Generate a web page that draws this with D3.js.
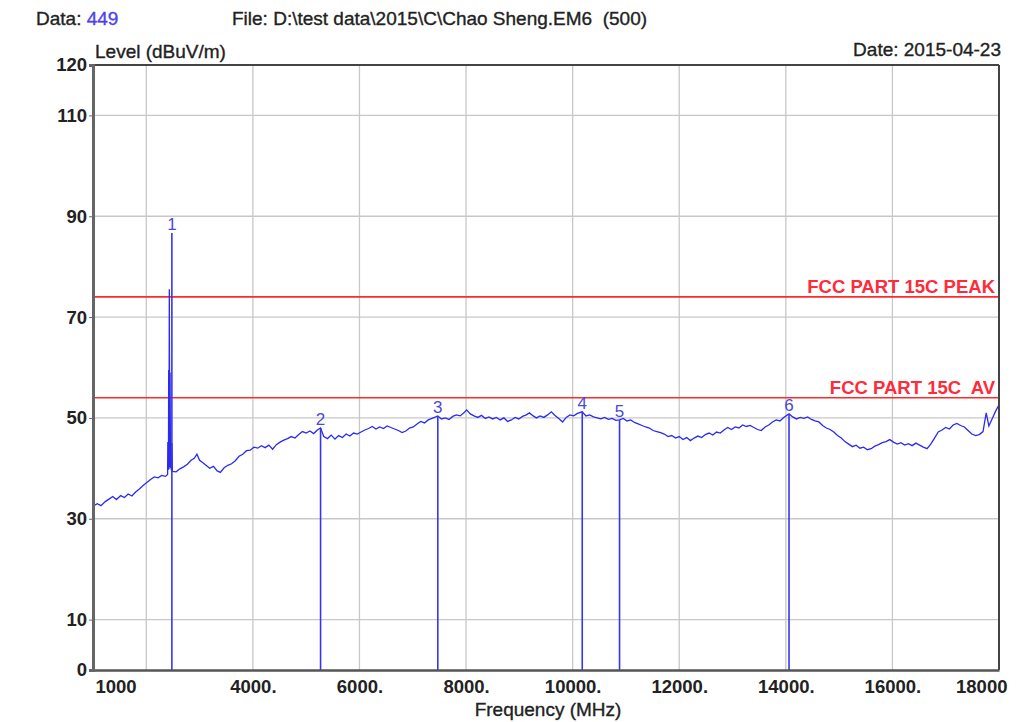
<!DOCTYPE html>
<html><head><meta charset="utf-8">
<script src="https://cdn.jsdelivr.net/npm/d3@7"></script>
<style>body{margin:0;background:#fff}svg{display:block}text{font-family:"Liberation Sans",Arial,sans-serif}</style>
</head><body><svg id="c" width="1017" height="722"></svg>
<script>
// ---- data ----
const xTickValues = [1000, 4000, 6000, 8000, 10000, 12000, 14000, 16000, 18000];
const xTickLabels = ["1000", "4000.", "6000.", "8000.", "10000.", "12000.", "14000.", "16000.", "18000"];
const xGridValues = [2000, 4000, 6000, 8000, 10000, 12000, 14000, 16000];
const yTickValues = [0, 10, 30, 50, 70, 90, 110, 120];
const yGridValues = [10, 30, 50, 70, 90, 110];
const limitNames = ["FCC PART 15C PEAK", "FCC PART 15C  AV"];
const limitLevels = [74, 54];
const markerIds = ["1", "2", "3", "4", "5", "6"];
const markerFreq = [2480, 5270, 7470, 10180, 10880, 14060];
const markerLevel = [86.7, 48.0, 50.4, 51.2, 49.6, 50.8];
const traceFreq = [1000,1080,1150,1230,1300,1370,1440,1520,1590,1660,1730,1800,1870,1940,2010,2080,2150,2220,2290,2360,2400,
 2404,2408,2412,2416,2420,2426,2432,2440,2446,2452,2458,2464,2470,2480,2490,
 2560,2630,2700,2770,2840,2900,2950,3000,3050,3120,3190,3260,3330,3390,3460,3530,3600,3670,3740,3810,3880,3950,
 4020,4090,4160,4230,4300,4370,4440,4510,4580,4650,4720,4790,4860,4930,5000,5070,5140,5210,5270,5330,5400,5470,5540,5610,5680,5750,5820,5890,5960,
 6030,6100,6170,6240,6310,6380,6450,6520,6590,6660,6730,6800,6870,6940,7010,7080,7150,7220,7290,7360,7430,7470,7540,7610,7680,7750,7820,7890,7960,
 8010,8080,8150,8220,8290,8360,8430,8500,8570,8640,8710,8780,8850,8920,8990,9060,9130,9190,9260,9320,9390,9460,9530,9600,9670,9740,9810,9880,9950,
 10020,10090,10180,10250,10320,10390,10460,10530,10600,10670,10740,10810,10880,10950,11020,11090,11160,11230,11300,11370,11440,11510,11580,11650,11720,11790,11860,11930,
 12000,12070,12140,12210,12280,12350,12420,12490,12560,12630,12700,12770,12840,12910,12980,13050,13120,13190,13260,13330,13400,13470,13540,13610,13680,13750,13820,13890,13960,
 14060,14130,14200,14270,14340,14410,14480,14550,14620,14690,14760,14830,14900,14970,15040,15110,15180,15250,15320,15390,15460,15530,15600,15670,15740,15810,15880,15950,
 16020,16090,16160,16230,16300,16370,16440,16510,16580,16650,16720,16790,16860,16930,17000,17070,17140,17210,17280,17350,17420,17490,17560,17630,17700,17760,17810,17870,17930,18000];
const traceLevel = [32.5,33.0,32.6,33.4,33.9,34.4,33.8,34.6,34.2,34.9,34.5,35.3,35.9,36.6,37.2,37.8,38.3,38.1,38.6,38.4,38.8,
 45.2,39.6,45.0,40.0,59.5,39.8,75.5,40.2,59.0,45.0,40.0,44.8,39.6,45.0,39.4,
 39.3,39.9,40.3,40.8,41.6,42.0,42.8,41.6,41.2,40.6,40.0,40.4,39.5,39.2,40.1,40.6,40.9,41.5,42.4,42.8,43.5,43.6,
 44.2,44.0,44.5,44.1,44.6,43.8,44.7,45.2,45.6,45.9,46.3,46.0,46.7,47.3,47.0,47.4,46.9,47.6,48.0,46.3,45.9,46.6,45.8,46.5,46.1,46.8,46.4,47.0,46.8,
 47.2,47.6,47.9,48.3,47.8,48.2,47.9,48.4,48.1,47.8,47.5,47.1,47.4,48.0,48.2,48.8,49.3,49.0,49.6,49.9,50.2,50.4,49.8,50.0,49.7,50.3,50.6,50.4,51.0,
 51.6,50.8,50.4,50.1,50.5,49.9,50.2,49.8,50.1,49.6,50.0,49.3,49.6,50.1,49.8,50.3,50.6,51.0,50.4,50.0,50.4,50.1,50.6,51.2,50.5,49.9,49.2,50.1,50.6,
 50.4,50.9,51.2,50.4,50.6,50.2,50.0,49.8,50.1,49.7,49.9,49.5,49.6,49.9,49.4,49.6,49.1,48.8,48.5,48.2,48.0,47.5,47.3,47.1,46.8,46.3,46.5,46.0,
 46.3,45.7,46.1,45.5,46.0,46.4,46.1,46.7,47.0,46.6,47.2,47.0,47.6,48.1,47.7,48.2,48.0,48.6,48.3,48.5,48.1,47.7,47.5,48.2,48.6,49.2,49.6,49.4,50.1,
 50.8,50.2,49.8,50.1,49.9,50.2,49.7,49.4,49.2,48.5,48.0,47.7,47.2,46.5,46.0,45.3,44.8,44.3,44.6,44.0,44.2,43.7,43.9,44.4,44.7,45.1,45.3,45.7,
 45.2,44.8,45.1,44.6,44.9,44.5,45.0,44.6,44.2,43.9,44.8,46.0,47.2,47.6,48.1,47.8,48.6,48.9,48.5,48.2,47.5,46.8,46.5,46.7,47.3,51.0,48.4,49.8,51.2,52.6];

// ---- drawing ----
const svg = d3.select("#c");
svg.append("rect").attr("width",1017).attr("height",722).attr("fill","#fff");
const L = 93, R = 999, T = 65, B = 670;
const FONT = "'Liberation Sans',Arial,sans-serif";
const x = d3.scaleLinear().domain([1000,18000]).range([L,R]);
const y = d3.scaleLinear().domain([0,120]).range([B,T]);

// grid
svg.append("g").selectAll("line").data(xGridValues).join("line")
  .attr("x1",d=>x(d)).attr("x2",d=>x(d)).attr("y1",T).attr("y2",B)
  .attr("stroke","#c8c8c8").attr("stroke-width",1.3);
svg.append("g").selectAll("line").data(yGridValues).join("line")
  .attr("x1",L).attr("x2",R).attr("y1",d=>y(d)).attr("y2",d=>y(d))
  .attr("stroke","#c8c8c8").attr("stroke-width",1.3);

// limit lines
const lim = svg.append("g");
limitLevels.forEach((v,i)=>{
  lim.append("line").attr("x1",L).attr("x2",R).attr("y1",y(v)).attr("y2",y(v))
    .attr("stroke","#ff2a2a").attr("stroke-width",1.7);
  lim.append("text").attr("x",R-4).attr("y",y(v)-4).attr("text-anchor","end")
    .attr("xml:space","preserve")
    .attr("font-size",18.5).attr("font-weight","bold").attr("fill","#ff2a3a").text(limitNames[i]);
});

// trace
const pts = traceFreq.map((f,i)=>[f,traceLevel[i]]);
svg.append("path").datum(pts)
  .attr("d", d3.line().x(d=>x(d[0])).y(d=>y(d[1])))
  .attr("fill","none").attr("stroke","#2b2bf0").attr("stroke-width",1.3);

// markers
const mk = svg.append("g");
markerFreq.forEach((f,i)=>{
  mk.append("line").attr("x1",x(f)).attr("x2",x(f)).attr("y1",y(markerLevel[i])).attr("y2",B)
    .attr("stroke","#3636f0").attr("stroke-width",1.6);
  mk.append("text").attr("x",x(f)).attr("y",y(markerLevel[i])-3).attr("text-anchor","middle")
    .attr("font-size",17).attr("fill","#4a4ad8").text(markerIds[i]);
});

// frame
svg.append("line").attr("x1",L).attr("x2",R).attr("y1",T).attr("y2",T).attr("stroke","#444").attr("stroke-width",2);
svg.append("line").attr("x1",R).attr("x2",R).attr("y1",T).attr("y2",B).attr("stroke","#444").attr("stroke-width",2);

// axes
const xa = svg.append("g").attr("transform",`translate(0,${B})`)
  .call(d3.axisBottom(x).tickValues(xTickValues).tickSize(0).tickPadding(10)
    .tickFormat((d,i)=>xTickLabels[i]));
xa.select(".domain").attr("stroke","#555").attr("stroke-width",2.5);
xa.selectAll("text").attr("font-size",18.5).attr("font-weight","bold").attr("fill","#222")
  .attr("font-family",FONT)
  .attr("text-anchor",(d,i)=> i===0 ? "start" : (i===xTickValues.length-1 ? "end" : "middle"))
  .attr("dx",(d,i)=> i===0 ? 2 : (i===xTickValues.length-1 ? 8 : 0));

const ya = svg.append("g").attr("transform",`translate(${L},0)`)
  .call(d3.axisLeft(y).tickValues(yTickValues).tickSize(4).tickPadding(2).tickFormat(d=>String(d)));
ya.select(".domain").attr("stroke","#666").attr("stroke-width",3);
ya.selectAll(".tick line").attr("stroke","#666");
ya.selectAll("text").attr("font-size",18.5).attr("font-weight","bold").attr("fill","#222")
  .attr("font-family",FONT);

// texts
const plain = sel => sel.attr("font-size",19).attr("fill","#222").attr("stroke","#222").attr("stroke-width",0.35);
plain(svg.append("text").attr("x",36).attr("y",25))
  .text("Data: ").append("tspan").attr("fill","#5040f0").attr("stroke","#5040f0").text("449");
plain(svg.append("text").attr("x",232).attr("y",25).attr("xml:space","preserve"))
  .text("File: D:\\test data\\2015\\C\\Chao Sheng.EM6  (500)");
plain(svg.append("text").attr("x",95).attr("y",58)).text("Level (dBuV/m)");
plain(svg.append("text").attr("x",1001).attr("y",56).attr("text-anchor","end")).text("Date: 2015-04-23");
plain(svg.append("text").attr("x",548).attr("y",716).attr("text-anchor","middle")).text("Frequency (MHz)");
</script></body></html>
